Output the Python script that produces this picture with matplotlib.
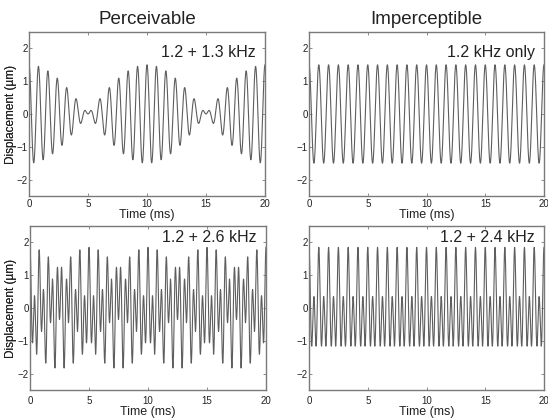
import numpy as np
import matplotlib
matplotlib.use("Agg")
import matplotlib.pyplot as plt

plt.rcParams['font.family'] = ['Liberation Sans', 'DejaVu Sans']

# ---- data ----
column_titles = ["Perceivable", "Imperceptible"]
panel_labels = ["1.2 + 1.3 kHz", "1.2 kHz only", "1.2 + 2.6 kHz", "1.2 + 2.4 kHz"]
panel_freqs_khz = [[1.2, 1.3], [1.2], [1.2, 2.6], [1.2, 2.4]]
panel_amps_um = [[0.75, 0.75], [1.5], [0.75, 1.1], [0.75, 1.1]]
x_ticks = [0, 5, 10, 15, 20]
y_ticks = [-2, -1, 0, 1, 2]
x_limits = (0, 20)
y_limits = (-2.5, 2.5)
time_ms = np.linspace(0, 20, 8001)

LINE = "#5e5e5e"
SPINE = "#7a7a7a"
TXT = "#222222"

fig = plt.figure(figsize=(5.48, 4.19), dpi=100)
W, H = 548, 419
# axes boxes in pixels: (left, top, right, bottom)
boxes = [(29, 32, 265, 196), (309, 32, 544, 196),
         (30, 226, 266, 390), (309, 226, 544, 390)]
label_y = [0.875, 0.875, 0.93, 0.93]

for i, (l, t, r, b) in enumerate(boxes):
    ax = fig.add_axes([l / W, 1 - b / H, (r - l) / W, (b - t) / H])
    sig = np.zeros_like(time_ms)
    for f, a in zip(panel_freqs_khz[i], panel_amps_um[i]):
        sig += a * np.cos(2 * np.pi * f * time_ms)
    ax.plot(time_ms, sig, color=LINE, lw=0.8)
    ax.set_xlim(*x_limits)
    ax.set_ylim(*y_limits)
    ax.set_xticks(x_ticks)
    ax.set_yticks(y_ticks)
    ax.tick_params(direction='in', length=2, width=0.6, colors=SPINE,
                   labelcolor=TXT, labelsize=7, top=True, right=True)
    ax.tick_params(axis='y', pad=1)
    ax.tick_params(axis='x', pad=2.5 if i < 2 else 4)
    for s in ax.spines.values():
        s.set_color(SPINE)
        s.set_linewidth(1.0)
    ax.set_xlabel("Time (ms)", fontsize=9, color=TXT)
    ax.xaxis.set_label_coords(0.5, -0.08 if i < 2 else -0.095)
    ax.set_ylabel("Displacement (\u00b5m)", fontsize=8.5, color=TXT)
    ax.yaxis.set_label_coords((17 - l) / (r - l), 0.5)
    ax.text(0.96, label_y[i], panel_labels[i], transform=ax.transAxes,
            ha='right', va='center', fontsize=11.5, color=TXT)
    if i < 2:
        ax.set_title(column_titles[i], fontsize=13.5, color=TXT, pad=6)

fig.savefig("out.png", dpi=100)
